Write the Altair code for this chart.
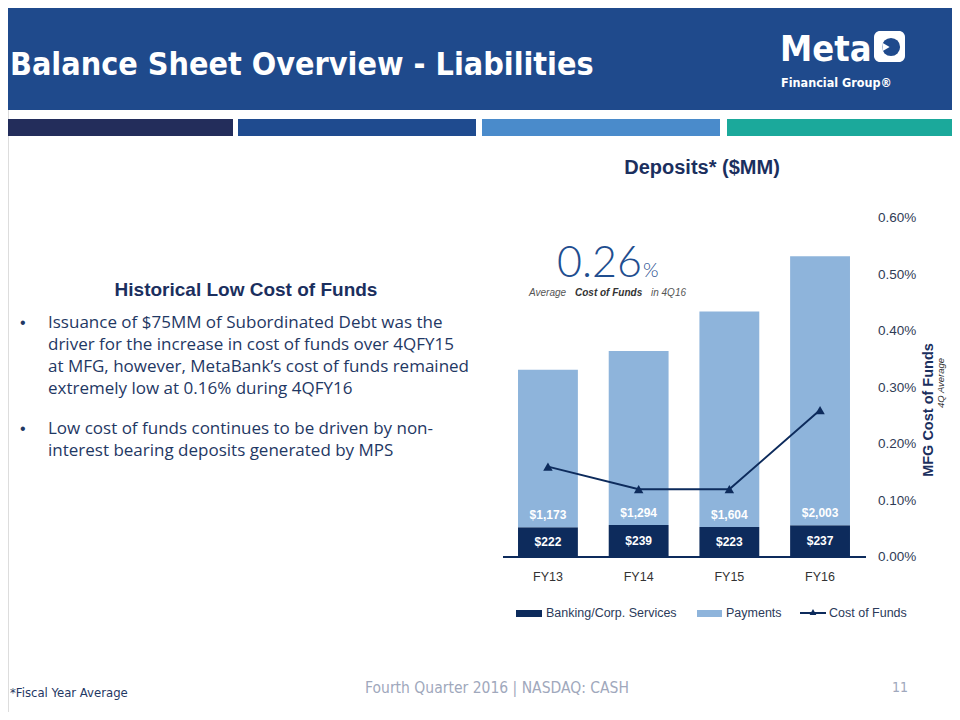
import altair as alt
import pandas as pd

# ---------------- data ----------------
years = ["FY13", "FY14", "FY15", "FY16"]
banking = [222, 239, 223, 237]
payments = [1173, 1294, 1604, 2003]
cost_of_funds = [0.16, 0.12, 0.12, 0.26]
pct_ticks = [0.0, 0.1, 0.2, 0.3, 0.4, 0.5, 0.6]

bullet1 = [
    "Issuance of $75MM of Subordinated Debt was the",
    "driver for the increase in cost of funds over 4QFY15",
    "at MFG, however, MetaBank\u2019s cost of funds remained",
    "extremely low at 0.16% during 4QFY16",
]
bullet2 = [
    "Low cost of funds continues to be driven by non-",
    "interest bearing deposits generated by MPS",
]

df = pd.DataFrame({
    "year": years,
    "banking": banking,
    "payments": payments,
    "cof": cost_of_funds,
})
df["total"] = df["banking"] + df["payments"]
df["bank_mid"] = df["banking"] / 2
df["bank_lbl"] = ["$" + format(v, ",") for v in banking]
df["pay_lbl"] = ["$" + format(v, ",") for v in payments]
tick_df = pd.DataFrame({"t": pct_ticks, "lbl": [f"{v:.2f}%" for v in pct_ticks]})

# ---------------- style ----------------
NAVY = "#0D2B5C"
LIGHT = "#8EB4DB"
HEAD = "#1F4A8C"
TXT = "#1F3864"
SANS = "Liberation Sans, Arial, sans-serif"
BODY = "Open Sans, Liberation Sans, sans-serif"
NARROW = "DejaVu Sans Condensed, sans-serif"

xs = alt.Scale(domain=years, range=[494.6, 857.4], paddingInner=0.34, paddingOuter=0.17)
dep_s = alt.Scale(domain=[0, 2524], range=[549, 210], nice=False, zero=True)
pct_s = alt.Scale(domain=[0, 0.6], range=[549, 210], nice=False, zero=True)
X = alt.X("year:N", scale=xs, axis=None)

one = alt.Data(values=[{}])


def txt(s, x, y, size, color, weight="normal", align="left", font=SANS,
        style="normal", angle=0, baseline="middle"):
    kw = dict(text=s, fontSize=size, color=color, fontWeight=weight, align=align,
              font=font, fontStyle=style, baseline=baseline)
    if angle:
        kw["angle"] = angle
    return alt.Chart(one).mark_text(**kw).encode(x=alt.value(x), y=alt.value(y))


def rect(x, x2, y, y2, color, r=0):
    m = alt.Chart(one).mark_rect(color=color, cornerRadius=r) if r else alt.Chart(one).mark_rect(color=color)
    return m.encode(x=alt.value(x), x2=alt.value(x2), y=alt.value(y), y2=alt.value(y2))


layers = []
# header
layers.append(rect(0, 944, 0, 102, HEAD))
for (a, b, c) in [(0, 225, "#232D5B"), (230, 468, "#1F4B8F"), (474, 712, "#4A8BCB"), (719, 944, "#1BA99B")]:
    layers.append(rect(a, b, 111, 128, c))
layers.append(txt("Balance Sheet Overview - Liabilities", 2, 67, 32, "white", "bold",
                  font=NARROW, baseline="alphabetic"))
# logo
layers.append(txt("Meta", 772, 53, 36, "white", "bold", font=NARROW, baseline="alphabetic"))
layers.append(rect(866, 897, 23, 54, "white", r=6))
layers.append(alt.Chart(one).mark_point(shape="circle", filled=True, size=330, color=HEAD, opacity=1)
              .encode(x=alt.value(883), y=alt.value(39)))
layers.append(alt.Chart(one).mark_point(shape="triangle-right", filled=True, size=70, color="white", opacity=1)
              .encode(x=alt.value(878), y=alt.value(39)))
layers.append(txt("Financial Group\u00ae", 773, 79, 12.5, "white", "bold", font=NARROW, baseline="alphabetic"))

# left text
layers.append(txt("Historical Low Cost of Funds", 238, 282, 19, "#1B2F5E", "bold", align="center"))
ys1 = [315, 337, 359, 381]
ys2 = [421, 443]
layers.append(txt("\u2022", 12, ys1[0], 16, TXT))
layers.append(txt("\u2022", 12, ys2[0], 16, TXT))
for s, y in zip(bullet1, ys1):
    layers.append(txt(s, 40, y, 17, TXT, font=BODY))
for s, y in zip(bullet2, ys2):
    layers.append(txt(s, 40, y, 17, TXT, font=BODY))

# chart title and callout
layers.append(txt("Deposits* ($MM)", 694, 160, 20, "#1B2F5E", "bold", align="center"))
layers.append(txt("0.26", 549, 269, 43, "#1F4E8F", 300, font="Lato, " + SANS, baseline="alphabetic"))
layers.append(txt("%", 635, 269, 20, "#1F4E8F", 300, font="Lato, " + SANS, baseline="alphabetic"))
layers.append(txt("Average", 521, 285, 10, "#555555", style="italic"))
layers.append(txt("Cost of Funds", 567, 285, 10, "#333333", "bold", style="italic"))
layers.append(txt("in 4Q16", 643, 285, 10, "#555555", style="italic"))

base = alt.Chart(df)
# bars
layers.append(base.mark_bar(color=NAVY).encode(
    x=X, y=alt.Y("banking:Q", scale=dep_s, axis=None), y2=alt.datum(0)))
layers.append(base.mark_bar(color=LIGHT).encode(
    x=X, y=alt.Y("banking:Q", scale=dep_s, axis=None), y2="total:Q"))
layers.append(base.mark_text(color="white", fontWeight="bold", fontSize=12, font=SANS).encode(
    x=X, y=alt.Y("bank_mid:Q", scale=dep_s, axis=None), text="bank_lbl:N"))
layers.append(base.mark_text(color="white", fontWeight="bold", fontSize=12, font=SANS, dy=-12).encode(
    x=X, y=alt.Y("banking:Q", scale=dep_s, axis=None), text="pay_lbl:N"))
# baseline and category labels
layers.append(alt.Chart(one).mark_rule(color=NAVY, strokeWidth=2).encode(
    x=alt.value(495), x2=alt.value(858), y=alt.value(549)))
layers.append(base.mark_text(color="#333333", fontSize=12.5, font=SANS).encode(
    x=X, y=alt.value(569), text="year:N"))
# cost of funds line
layers.append(base.mark_line(color=NAVY, strokeWidth=2).encode(
    x=X, y=alt.Y("cof:Q", scale=pct_s, axis=None)))
layers.append(base.mark_point(shape="triangle-up", filled=True, size=90, color=NAVY, opacity=1).encode(
    x=X, y=alt.Y("cof:Q", scale=pct_s, axis=None)))
# right axis labels
layers.append(alt.Chart(tick_df).mark_text(color="#2F3B55", fontSize=13.5, align="left", font=SANS).encode(
    x=alt.value(870), y=alt.Y("t:Q", scale=pct_s, axis=None), text="lbl:N"))
layers.append(txt("MFG Cost of Funds", 921, 402, 14.5, "#1B2F5E", "bold", align="center", angle=270))
layers.append(txt("4Q Average", 933, 375, 9.5, "#333333", style="italic", align="center", angle=270))

# legend
layers.append(rect(508, 534, 602, 609, NAVY))
layers.append(txt("Banking/Corp. Services", 538, 605, 12.5, "#2B3A5A"))
layers.append(rect(689, 714, 602, 609, LIGHT))
layers.append(txt("Payments", 718, 605, 12.5, "#2B3A5A"))
layers.append(alt.Chart(one).mark_rule(color=NAVY, strokeWidth=2).encode(
    x=alt.value(792), x2=alt.value(818), y=alt.value(605)))
layers.append(alt.Chart(one).mark_point(shape="triangle-up", filled=True, size=45, color=NAVY, opacity=1)
              .encode(x=alt.value(805), y=alt.value(604)))
layers.append(txt("Cost of Funds", 821, 605, 12.5, "#2B3A5A"))

# footer
layers.append(txt("*Fiscal Year Average", 2, 685, 13, TXT, font=NARROW))
layers.append(txt("Fourth Quarter 2016 | NASDAQ: CASH", 489, 680, 15.5, "#A0A8BC", align="center", font=NARROW))
layers.append(txt("11", 884, 680, 14, "#A0A8BC", font=NARROW))

chart = alt.layer(*layers).resolve_scale(y="independent").properties(
    width=944, height=704, padding=0,
    autosize=alt.AutoSizeParams(type="none"),
).configure_view(stroke=None).configure(background="white")

chart.save("out.html", embed_options={"renderer": "svg", "actions": False})
